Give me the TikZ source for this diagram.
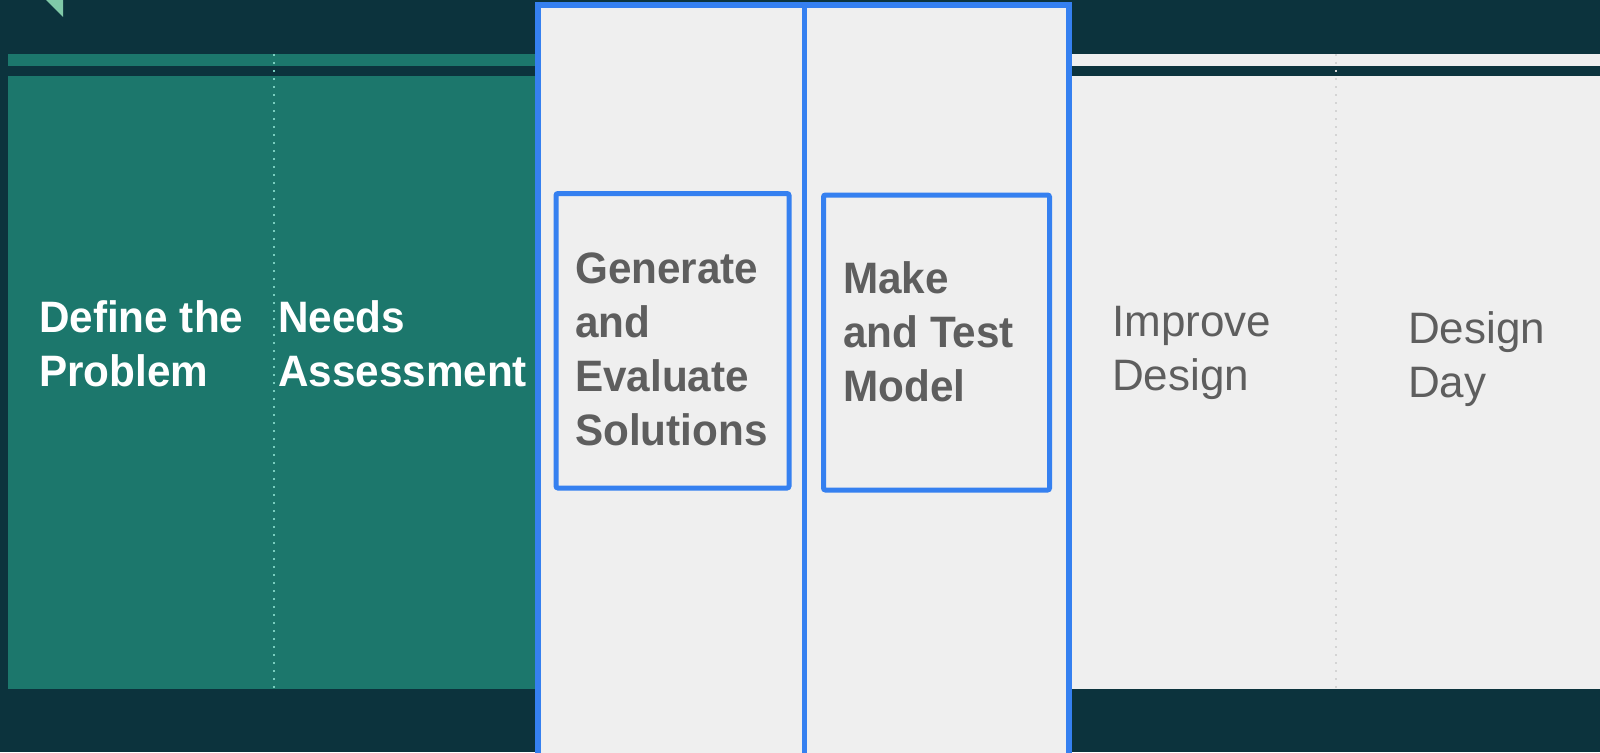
\documentclass[tikz,border=0pt]{standalone}
\usepackage{fontspec}
\setmainfont{Liberation Sans}
\newfontfamily\narrowbold{Liberation Sans}[FakeStretch=0.96]

\definecolor{bgdark}{RGB}{12,51,61}
\definecolor{stageteal}{RGB}{28,119,108}
\definecolor{mint}{RGB}{128,201,168}
\definecolor{paper}{RGB}{239,239,239}
\definecolor{frameblue}{RGB}{53,128,240}
\definecolor{inkgrey}{RGB}{94,94,94}
\definecolor{dotteal}{RGB}{120,205,190}
\definecolor{dotgrey}{RGB}{212,212,212}

% labels are anchored at the baseline of their last line
\tikzset{
  bigtext/.style={anchor=base west, inner sep=0pt, align=left,
    font=\fontsize{44}{54}\selectfont},
  boldlabel/.style={bigtext, font=\fontsize{44}{54}\selectfont\narrowbold\bfseries},
  donestage/.style={boldlabel, text=white},
  activestage/.style={boldlabel, text=inkgrey},
  laterstage/.style={bigtext, text=inkgrey},
  stagebox/.style={draw=frameblue, line width=5pt, rounded corners=2pt},
  dotdivider/.style={line width=2pt, dash pattern=on 2pt off 6pt}
}

\begin{document}
\begin{tikzpicture}[x=1pt,y=-1pt]
\useasboundingbox (0,0) rectangle (1600,752);
\fill[bgdark] (0,0) rectangle (1600,752);

% corner marker
\fill[mint] (46,0) -- (63,0) -- (63,17) -- cycle;

% completed stages (left band)
\fill[stageteal] (8,54) rectangle (540,66);
\fill[stageteal] (8,76) rectangle (540,689);

% upcoming stages (right band)
\fill[paper] (1066,54) rectangle (1600,66);
\fill[paper] (1066,76) rectangle (1600,689);

% dotted separators between columns
\draw[dotdivider, dotteal] (274,54) -- (274,689);
\draw[dotdivider, dotgrey] (1336,54) -- (1336,689);

% current stages panel
\filldraw[fill=paper, draw=frameblue, line width=6pt] (538,5.5) rectangle (1069,770);
\draw[frameblue, line width=5pt] (804,5.5) -- (804,770);

% highlighted boxes
\draw[stagebox] (556,193.5) rectangle (789,488);
\draw[stagebox] (823.5,195) rectangle (1049.5,490);

% stage labels
\node[donestage] (define) at (39,386) {Define the\\Problem};
\node[donestage] (needs) at (278,386) {Needs\\Assessment};
\node[activestage] (generate) at (575,445) {Generate\\and\\Evaluate\\Solutions};
\node[activestage] (make) at (843,401) {Make\\and Test\\Model};
\node[laterstage] (improve) at (1112,390) {Improve\\Design};
\node[laterstage] (day) at (1408,397) {Design\\Day};
\end{tikzpicture}
\end{document}
